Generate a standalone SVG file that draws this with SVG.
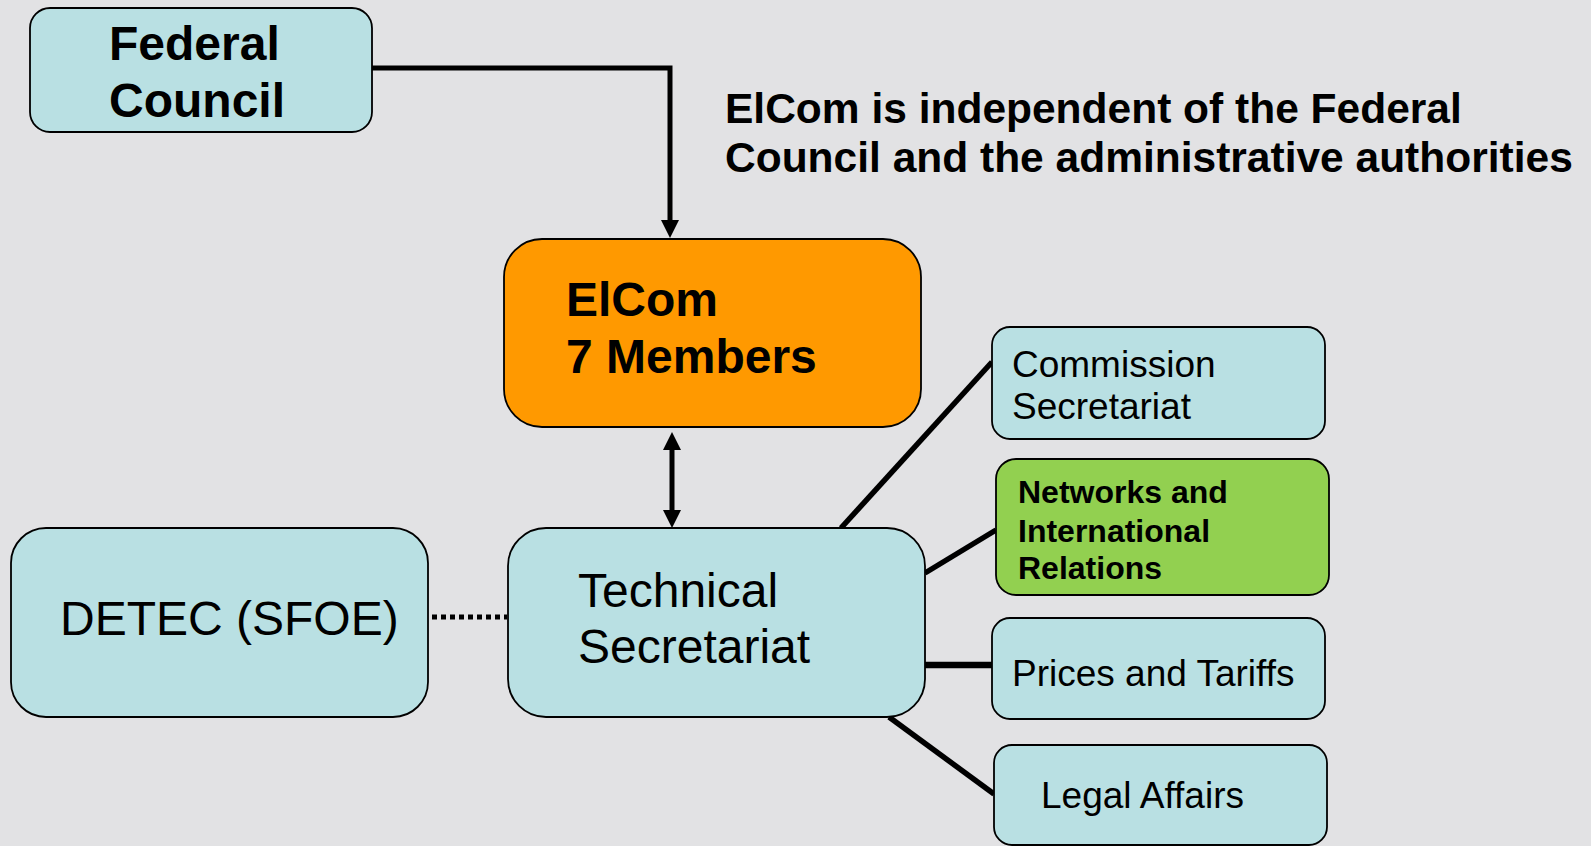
<svg xmlns="http://www.w3.org/2000/svg" width="1591" height="846" viewBox="0 0 1591 846">
<style>
.bg{fill:#E2E2E4}
.box{fill:#B9E0E3;stroke:#000;stroke-width:1.8}
.orange{fill:#FF9900;stroke:#000;stroke-width:1.8}
.green{fill:#92D050;stroke:#000;stroke-width:1.8}
text{font-family:"Liberation Sans",Arial,sans-serif;fill:#000}
.b{font-weight:bold}
.conn{stroke:#000;stroke-width:5.5;fill:none}
.arr{stroke:#000;stroke-width:5;fill:none}
.dot{stroke:#000;stroke-width:5;fill:none;stroke-dasharray:5 4}
</style>
<defs>
<marker id="ah" markerUnits="userSpaceOnUse" markerWidth="18" markerHeight="18" refX="4" refY="9" orient="auto-start-reverse" viewBox="0 0 18 18">
<path d="M0,0 L18,9 L0,18 z" fill="#000"/>
</marker>
</defs>
<rect class="bg" x="0" y="0" width="1591" height="846"/>

<g id="connectors">
<path class="arr" d="M372,68 H670 V224" marker-end="url(#ah)"/>
<line class="arr" x1="672" y1="446" x2="672" y2="514" marker-start="url(#ah)" marker-end="url(#ah)"/>
<line class="dot" x1="432" y1="617" x2="507" y2="617"/>
<line class="conn" x1="841" y1="528" x2="992" y2="362"/>
<line class="conn" x1="925" y1="573" x2="996" y2="530"/>
<line class="conn" x1="925" y1="665" x2="992" y2="665" style="stroke-width:6.5"/>
<line class="conn" x1="889" y1="717" x2="994" y2="794"/>
</g>

<g id="federal-council">
<rect class="box" x="30" y="8" width="342" height="124" rx="20"/>
<text class="b" x="109" y="60" font-size="48">Federal</text>
<text class="b" x="109" y="117" font-size="48">Council</text>
</g>

<g id="note">
<text class="b" x="725" y="123" font-size="42.5">ElCom is independent of the Federal</text>
<text class="b" x="725" y="172" font-size="42.5">Council and the administrative authorities</text>
</g>

<g id="elcom">
<rect class="orange" x="504" y="239" width="417" height="188" rx="38"/>
<text class="b" x="566" y="316" font-size="48">ElCom</text>
<text class="b" x="566" y="373" font-size="48">7 Members</text>
</g>

<g id="technical-secretariat">
<rect class="box" x="508" y="528" width="417" height="189" rx="38"/>
<text x="578" y="607" font-size="48">Technical</text>
<text x="578" y="663" font-size="48">Secretariat</text>
</g>

<g id="detec">
<rect class="box" x="11" y="528" width="417" height="189" rx="35"/>
<text x="60" y="635" font-size="48">DETEC (SFOE)</text>
</g>

<g id="commission-secretariat">
<rect class="box" x="992" y="327" width="333" height="112" rx="18"/>
<text x="1012" y="377" font-size="37">Commission</text>
<text x="1012" y="419" font-size="37">Secretariat</text>
</g>

<g id="networks">
<rect class="green" x="996" y="459" width="333" height="136" rx="20"/>
<text class="b" x="1018" y="503" font-size="32">Networks and</text>
<text class="b" x="1018" y="542" font-size="32">International</text>
<text class="b" x="1018" y="579" font-size="32">Relations</text>
</g>

<g id="prices-tariffs">
<rect class="box" x="992" y="618" width="333" height="101" rx="18"/>
<text x="1012" y="686" font-size="37">Prices and Tariffs</text>
</g>

<g id="legal-affairs">
<rect class="box" x="994" y="745" width="333" height="100" rx="18"/>
<text x="1041" y="808" font-size="37">Legal Affairs</text>
</g>
</svg>
